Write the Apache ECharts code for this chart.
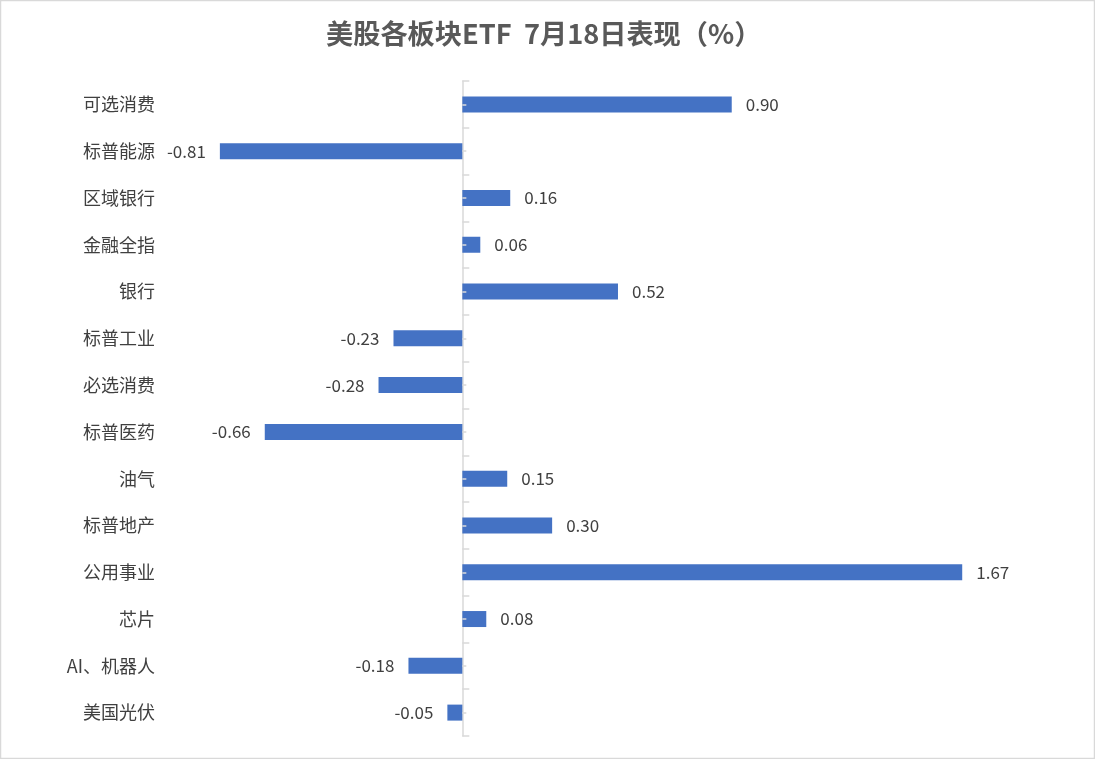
<!DOCTYPE html>
<html>
<head>
<meta charset="utf-8">
<script src="https://cdn.jsdelivr.net/npm/echarts@6/dist/echarts.min.js"></script>
<style>
html,body{margin:0;padding:0;background:#fff;}
#c{width:1095px;height:759px;}
</style>
</head>
<body>
<div id="c"></div>
<script>
var categories = ['可选消费','标普能源','区域银行','金融全指','银行','标普工业','必选消费','标普医药','油气','标普地产','公用事业','芯片','AI、机器人','美国光伏'];
var values = [0.90,-0.81,0.16,0.06,0.52,-0.23,-0.28,-0.66,0.15,0.30,1.67,0.08,-0.18,-0.05];
var titleText = '美股各板块ETF  7月18日表现（%）';

var font = '"Noto Sans CJK SC", "Noto Sans", sans-serif';
var chart = echarts.init(document.getElementById('c'));
var barData = values.map(function(v){
  return {value: v, label: {position: v < 0 ? 'left' : 'right'}};
});
var tickAxisBase = {
  type: 'category', data: categories, inverse: true, position: 'left',
  axisLabel: {show: false}, splitLine: {show: false}
};
chart.setOption({
  backgroundColor: '#fff',
  animation: false,
  title: {
    text: titleText, left: 321, top: 15,
    textStyle: {fontFamily: font, fontSize: 27.2, fontWeight: 'bold', color: '#595959'}
  },
  graphic: [{
    type: 'rect', shape: {x: 0.5, y: 0.5, width: 1094, height: 758},
    style: {fill: 'none', stroke: '#d9d9d9', lineWidth: 1.5}, z: 100
  }],
  grid: {left: 163, right: 34, top: 81, bottom: 23, containLabel: false},
  xAxis: {
    type: 'value', min: -1, max: 2,
    axisLine: {show: false}, axisTick: {show: false}, axisLabel: {show: false}, splitLine: {show: false}
  },
  yAxis: [
    {
      type: 'category', data: categories, inverse: true, position: 'left',
      axisLine: {show: false, onZero: false}, axisTick: {show: false},
      axisLabel: {margin: 8, fontSize: 18, color: '#404040', fontFamily: font},
      splitLine: {show: false}
    },
    Object.assign({}, tickAxisBase, {
      axisLine: {show: true, onZero: true, onZeroAxisIndex: 0, lineStyle: {color: '#d9d9d9', width: 1.5}},
      axisTick: {show: true, inside: true, length: 7, lineStyle: {color: '#d9d9d9', width: 1.5}}
    }),
    Object.assign({}, tickAxisBase, {
      z: 10,
      axisLine: {show: false, onZero: true, onZeroAxisIndex: 0},
      axisTick: {show: true, inside: true, alignWithLabel: true, length: 4, lineStyle: {color: '#d9d9d9', width: 1.5}}
    })
  ],
  series: [{
    type: 'bar', yAxisIndex: 0, data: barData, barWidth: 16,
    itemStyle: {color: '#4472C4'},
    label: {
      show: true, distance: 14, fontSize: 17, color: '#404040', fontFamily: font,
      formatter: function(p){ return p.value.toFixed(2); }
    }
  }]
});
</script>
</body>
</html>
